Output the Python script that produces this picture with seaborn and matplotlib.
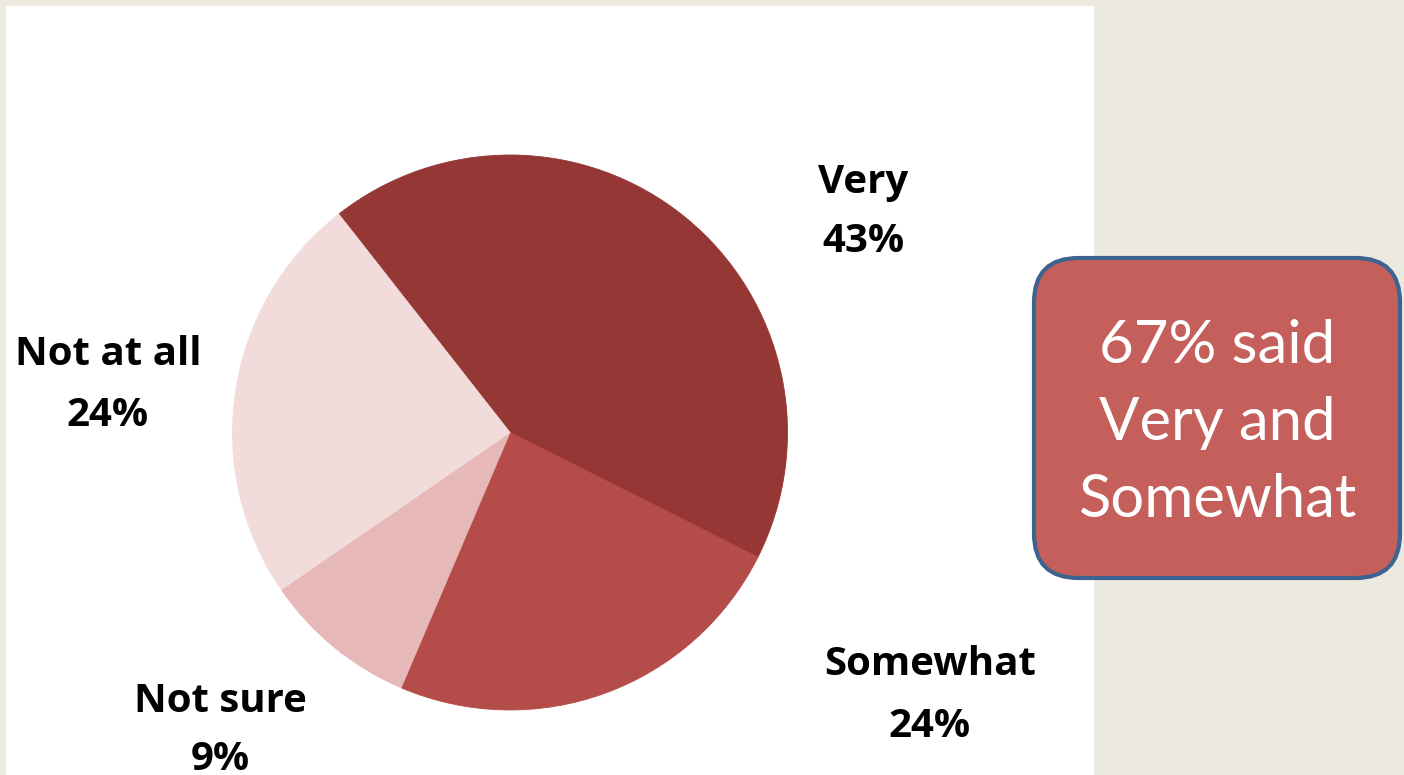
import matplotlib
matplotlib.use("Agg")
import matplotlib.pyplot as plt
from matplotlib.patches import Rectangle, FancyBboxPatch
import seaborn as sns

# ---- data ----
categories = ["Very", "Somewhat", "Not sure", "Not at all"]
values = [43, 24, 9, 24]
pct_labels = ["43%", "24%", "9%", "24%"]
colors = ["#953735", "#B44C4A", "#E6B8B7", "#F2DCDB"]
callout_lines = ["67% said", "Very and", "Somewhat"]

sns.set_theme(style="white")
plt.rcParams["font.family"] = ["Lato", "DejaVu Sans"]

W, H = 1404, 775
DPI = 100
fig = plt.figure(figsize=(W / DPI, H / DPI), dpi=DPI)
fig.patch.set_facecolor("#ECE9DE")

# white panel
fig.patches.append(Rectangle((6 / W, 0), (1094 - 6) / W, (775 - 6) / H,
                             transform=fig.transFigure, facecolor="white",
                             edgecolor="none", zorder=-5))

# pie geometry (pixels)
CX, CY, R = 510, 432.5, 277.5


def px(x, y):
    return (x - CX) / R, (CY - y) / R


ax = fig.add_axes([0, 0, 1, 1])
ax.set_zorder(2)
ax.set_facecolor("none")
ax.patch.set_alpha(0)
wedges, _ = ax.pie(values, colors=colors, startangle=128.1, counterclock=False,
                   radius=1.0, center=(0, 0), wedgeprops=dict(linewidth=0.6))
for w, c in zip(wedges, colors):
    w.set_edgecolor(c)
ax.set_aspect("auto")
ax.set_xlim(-CX / R, (W - CX) / R)
ax.set_ylim((CY - H) / R, CY / R)
ax.axis("off")

# label anchors (pixel centers / baselines)
label_pos = {
    "Very": (863, 193, 252),
    "Somewhat": (930, 675, 737),
    "Not sure": (220, 712, 770),
    "Not at all": (108, 365, 426),
}
label_font = ["Open Sans", "DejaVu Sans"]
for cat, pct in zip(categories, pct_labels):
    x, y1, y2 = label_pos[cat]
    ax.text(*px(x, y1), cat, ha="center", va="baseline", fontsize=29,
            fontweight="bold", color="black", family=label_font, clip_on=False)
    ax.text(*px(x, y2), pct, ha="center", va="baseline", fontsize=29,
            fontweight="bold", color="black", family=label_font, clip_on=False)

# callout box
bx0, by0 = px(1034, 578)
bx1, by1 = px(1400, 258)
box = FancyBboxPatch((bx0, by0), bx1 - bx0, by1 - by0,
                     boxstyle="round,pad=0,rounding_size=0.16",
                     facecolor="#C45F5B", edgecolor="#3D6390",
                     linewidth=3.0, clip_on=False, zorder=5)
ax.add_patch(box)
for line, yb in zip(callout_lines, [363, 440, 517]):
    ax.text(*px(1217, yb), line, ha="center", va="baseline", fontsize=43,
            color="white", zorder=6, clip_on=False)

fig.savefig("out.png", dpi=DPI, facecolor=fig.get_facecolor())
